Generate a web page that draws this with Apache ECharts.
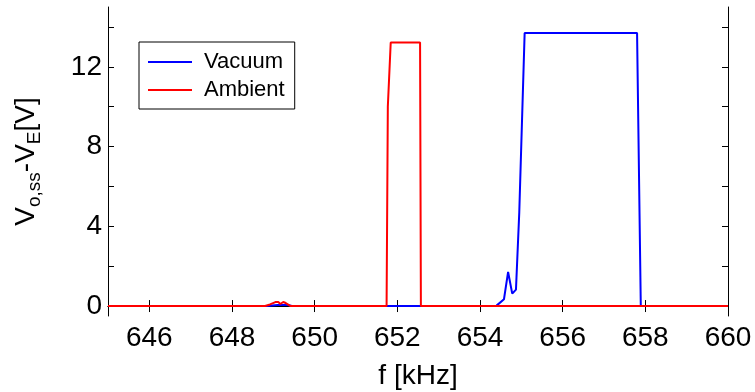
<!DOCTYPE html>
<html>
<head>
<meta charset="utf-8">
<script src="https://cdn.jsdelivr.net/npm/echarts@6/dist/echarts.min.js"></script>
<style>
  html, body { margin: 0; padding: 0; background: #fff; }
  #chart { width: 755px; height: 392px; }
</style>
</head>
<body>
<div id="chart"></div>
<script>
// Steady-state output voltage vs. drive frequency, vacuum and ambient air
const vacuumFreq = [645, 648.85, 649.1, 649.35, 649.45, 653.5, 654.40, 654.58, 654.68, 654.78, 654.87, 654.95, 655.08, 657.80, 657.89, 660];
const vacuumVolt = [0, 0, 0.05, 0.05, 0, 0, 0.02, 0.34, 1.71, 0.62, 0.82, 4.7, 13.69, 13.69, 0, 0];

const ambientFreq = [645, 648.80, 648.92, 649.05, 649.12, 649.17, 649.24, 649.30, 649.42, 651.74, 651.77, 651.84, 652.55, 652.57, 660];
const ambientVolt = [0, 0, 0.08, 0.2, 0.2, 0.1, 0.2, 0.15, 0, 0, 10, 13.22, 13.22, 0, 0];

const xTicks = [646, 648, 650, 652, 654, 656, 658, 660];
const yTicks = [0, 2, 4, 6, 8, 10, 12, 14];
const yLabels = [0, 4, 8, 12];

const FONT = 'Liberation Sans, Arial, Helvetica, sans-serif';

const pairs = (xs, ys) => xs.map((x, i) => [x, ys[i]]);

const chart = echarts.init(document.getElementById('chart'), null, { renderer: 'canvas' });

const tickStyle = { show: true, inside: true, length: 6, lineStyle: { color: '#000', width: 1 } };
const lineStyle = { show: true, lineStyle: { color: '#000', width: 1 } };

chart.setOption({
  animation: false,
  backgroundColor: '#fff',
  textStyle: { fontFamily: FONT },
  grid: { left: 108, right: 27, top: 7, bottom: 76, containLabel: false, outerBoundsMode: 'none' },
  legend: {
    orient: 'vertical',
    left: 139,
    top: 42,
    padding: [9, 10, 8, 8],
    itemGap: 6,
    itemWidth: 44,
    itemHeight: 20,
    borderColor: '#000',
    borderWidth: 1,
    backgroundColor: '#fff',
    itemStyle: { color: 'transparent', borderColor: 'transparent', borderWidth: 0 },
    lineStyle: { width: 2 },
    textStyle: { fontFamily: FONT, fontSize: 22, color: '#000', lineHeight: 20, padding: [0, 0, 0, 7] },
    data: ['Vacuum', 'Ambient']
  },
  xAxis: [
    {
      type: 'value', position: 'bottom', min: 645, max: 660,
      axisLine: lineStyle,
      axisTick: Object.assign({ customValues: xTicks }, tickStyle),
      minorTick: { show: false },
      splitLine: { show: false },
      axisLabel: { customValues: xTicks, fontFamily: FONT, fontSize: 28, color: '#000', margin: 8 },
      name: 'f [kHz]', nameLocation: 'middle', nameGap: 46,
      nameTextStyle: { fontFamily: FONT, fontSize: 28, color: '#000' }
    },
    {
      type: 'value', position: 'top', min: 645, max: 660,
      axisLine: lineStyle,
      axisTick: Object.assign({ customValues: xTicks }, tickStyle),
      splitLine: { show: false },
      axisLabel: { show: false }
    }
  ],
  yAxis: [
    {
      type: 'value', position: 'left', min: -0.5, max: 15,
      axisLine: lineStyle,
      axisTick: Object.assign({ customValues: yTicks }, tickStyle),
      minorTick: { show: false },
      splitLine: { show: false },
      axisLabel: { customValues: yLabels, fontFamily: FONT, fontSize: 28, color: '#000', margin: 6 },
      name: '{v|V}{s|o,ss}{v|-V}{s|E}{v|[V]}',
      nameLocation: 'middle', nameRotate: 90, nameGap: 64,
      nameTextStyle: {
        fontFamily: FONT, color: '#000',
        rich: {
          v: { fontFamily: FONT, fontSize: 28, lineHeight: 36, color: '#000' },
          s: { fontFamily: FONT, fontSize: 19, lineHeight: 17, verticalAlign: 'bottom', color: '#000' }
        }
      }
    },
    {
      type: 'value', position: 'right', min: -0.5, max: 15,
      axisLine: lineStyle,
      axisTick: Object.assign({ customValues: yTicks }, tickStyle),
      splitLine: { show: false },
      axisLabel: { show: false }
    }
  ],
  series: [
    {
      name: 'Vacuum', type: 'line', xAxisIndex: 0, yAxisIndex: 0,
      symbol: 'none', color: '#0000ff',
      lineStyle: { color: '#0000ff', width: 2 },
      data: pairs(vacuumFreq, vacuumVolt)
    },
    {
      name: 'Ambient', type: 'line', xAxisIndex: 0, yAxisIndex: 0,
      symbol: 'none', color: '#ff0000',
      lineStyle: { color: '#ff0000', width: 2 },
      data: pairs(ambientFreq, ambientVolt)
    }
  ]
});
</script>
</body>
</html>
